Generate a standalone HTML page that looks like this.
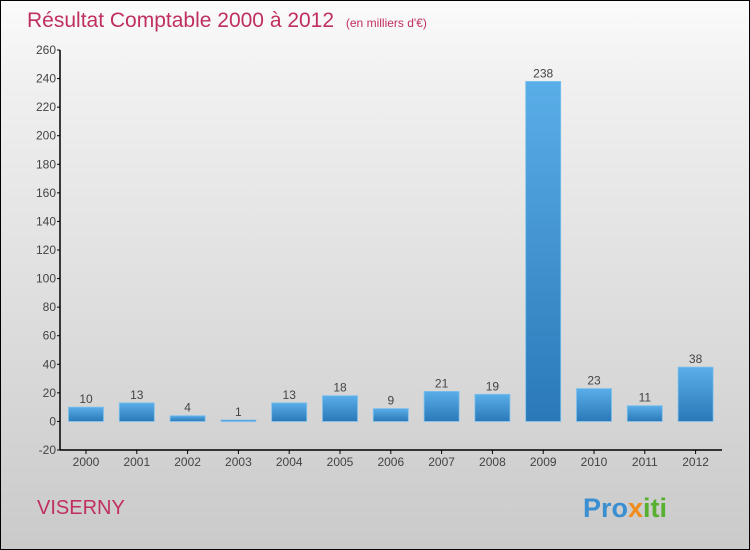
<!DOCTYPE html>
<html><head><meta charset="utf-8"><style>
body{margin:0;}
#wrap{position:relative;width:748px;height:548px;border:1px solid #000;background:linear-gradient(#fbfbfb,#f0f0f0 15%,#cacaca);font-family:"Liberation Sans",sans-serif;overflow:hidden}
svg{position:absolute;left:0;top:0}
</style></head><body>
<div id="wrap">
<svg width="748" height="548">
<defs><linearGradient id="bg" x1="0" y1="0" x2="0" y2="1"><stop offset="0" stop-color="#5aaee8"/><stop offset="1" stop-color="#2a78b8"/></linearGradient></defs>
<text x="26" y="26" font-size="21" fill="#c0305e">Résultat Comptable 2000 à 2012 <tspan font-size="12" dx="6">(en milliers d'€)</tspan></text>
<text x="36" y="513" font-size="20" fill="#c0305e">VISERNY</text>
<text x="582" y="516" font-size="27" font-weight="bold"><tspan fill="#3a8fd0">Pro</tspan><tspan fill="#f08c1c">x</tspan><tspan fill="#58b030">iti</tspan></text>
<g id="axes"></g><g id="bars"></g>
</svg></div>
<script>
const years=["2000","2001","2002","2003","2004","2005","2006","2007","2008","2009","2010","2011","2012"];
const values=[10,13,4,1,13,18,9,21,19,238,23,11,38];
const yTicks=[-20,0,20,40,60,80,100,120,140,160,180,200,220,240,260];
const NS="http://www.w3.org/2000/svg";
const x0=59,xEnd=721,yMin=-20,yMax=260,yTop=49,yBot=449;
const y=v=>yBot-(v-yMin)/(yMax-yMin)*(yBot-yTop);
const step=50.8,bw=35;
const xc=i=>x0+26+i*step;
function mk(t,a,p){const e=document.createElementNS(NS,t);for(const k in a)e.setAttribute(k,a[k]);p.appendChild(e);return e;}
const ax=document.getElementById('axes'),bg=document.getElementById('bars');
const yl=mk('line',{x1:x0,y1:yTop,x2:x0,y2:yBot,stroke:'#000','stroke-width':1.5},ax);


const xl=mk('line',{x1:x0,y1:yBot,x2:xEnd,y2:yBot,stroke:'#000','stroke-width':1.5},ax);


yTicks.forEach(v=>{
 mk('line',{x1:x0-3,y1:y(v),x2:x0,y2:y(v),stroke:'#000'},ax);
 const t=mk('text',{x:x0-4,y:y(v)+4,'font-size':12,fill:'#444','text-anchor':'end'},ax);
 t.textContent=v;
 
 
});
years.forEach((yr,i)=>{
 mk('line',{x1:xc(i),y1:yBot,x2:xc(i),y2:yBot+4,stroke:'#000'},ax);
 const t=mk('text',{x:xc(i),y:yBot+16,'font-size':12,fill:'#444','text-anchor':'middle'},ax);
 t.textContent=yr;
 
 
 const v=values[i];
 const r=mk('rect',{x:xc(i)-bw/2,y:y(v),width:bw,height:Math.max(1.5,y(0)-y(v)),fill:'url(#bg)',stroke:'#7cc0ee','stroke-width':0.8},bg);
 
 
 const l=mk('text',{x:xc(i),y:y(v)-4,'font-size':12,fill:'#444','text-anchor':'middle'},bg);
 l.textContent=v;
 
 
});
</script>
</body></html>
